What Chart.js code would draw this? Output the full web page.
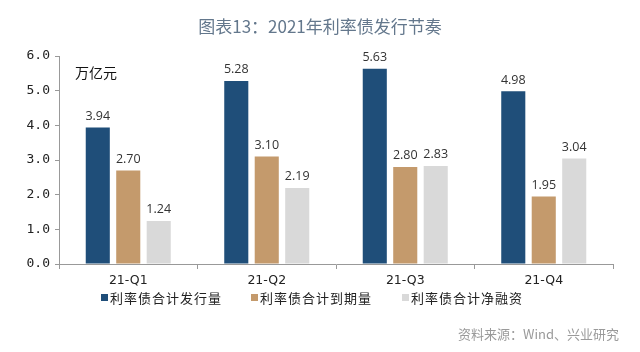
<!DOCTYPE html>
<html><head><meta charset="utf-8">
<script src="https://cdn.jsdelivr.net/npm/chart.js@4"></script>
<style>html,body{margin:0;padding:0;background:#fff}#wrap{width:640px;height:352px}</style>
</head><body><div id="wrap"><canvas id="c" width="640" height="352"></canvas></div>
<script>
const categories = ['21-Q1','21-Q2','21-Q3','21-Q4'];
const issuance = [3.94, 5.28, 5.63, 4.98];
const maturity = [2.70, 3.10, 2.80, 1.95];
const netFinancing = [1.24, 2.19, 2.83, 3.04];
const seriesNames = ['利率债合计发行量','利率债合计到期量','利率债合计净融资'];
const yTicks = [0,1,2,3,4,5,6];
const colors = ['#1F4E79','#C49A6C','#D9D9D9'];
const CJK = '"Noto Sans CJK SC", "Noto Sans", sans-serif';

const extras = {
  id: 'extras',
  afterDatasetsDraw(chart) {
    const ctx = chart.ctx;
    ctx.save();
    ctx.font = '12.5px "Open Sans", "Noto Sans", sans-serif';
    ctx.fillStyle = '#333';
    ctx.textAlign = 'center';
    ctx.textBaseline = 'bottom';
    chart.data.datasets.forEach((ds, i) => {
      const meta = chart.getDatasetMeta(i);
      meta.data.forEach((bar, j) => {
        ctx.fillText(ds.data[j].toFixed(2), bar.x, bar.y - 5);
      });
    });
    ctx.restore();
  },
  afterDraw(chart) {
    const ctx = chart.ctx;
    ctx.save();
    ctx.font = '17px ' + CJK;
    ctx.fillStyle = '#63778C';
    ctx.textAlign = 'center';
    ctx.textBaseline = 'middle';
    ctx.fillText('图表13：2021年利率债发行节奏', 320, 27);
    ctx.font = '14px ' + CJK;
    ctx.fillStyle = '#111';
    ctx.textAlign = 'left';
    ctx.fillText('万亿元', 75, 73);
    const lx = [101, 251, 402];
    ctx.font = '13px ' + CJK;
    ctx.letterSpacing = '1px';
    ctx.textBaseline = 'middle';
    seriesNames.forEach((n, i) => {
      ctx.fillStyle = colors[i];
      ctx.fillRect(lx[i], 294, 7, 7);
      ctx.fillStyle = '#222';
      ctx.fillText(n, lx[i] + 9, 298);
    });
    ctx.letterSpacing = '0px';
    ctx.font = '13px ' + CJK;
    ctx.fillStyle = '#9A9A9A';
    ctx.textAlign = 'right';
    ctx.fillText('资料来源：Wind、兴业研究', 619, 334);
    ctx.restore();
  }
};

new Chart(document.getElementById('c'), {
  type: 'bar',
  data: {
    labels: categories,
    datasets: [
      { label: seriesNames[0], data: issuance, backgroundColor: colors[0] },
      { label: seriesNames[1], data: maturity, backgroundColor: colors[1] },
      { label: seriesNames[2], data: netFinancing, backgroundColor: colors[2] }
    ]
  },
  options: {
    responsive: false,
    animation: false,
    devicePixelRatio: 1,
    layout: { padding: { top: 56, left: 0, right: 27, bottom: 58 } },
    datasets: { bar: { categoryPercentage: 0.66, barPercentage: 0.79 } },
    plugins: { legend: { display: false }, title: { display: false }, tooltip: { enabled: false } },
    scales: {
      x: {
        grid: { display: true, drawOnChartArea: false, drawTicks: true, tickLength: 5, color: '#999', offset: true },
        border: { display: true, color: '#999' },
        ticks: { color: '#222', font: { size: 12.5, family: '"DejaVu Sans", sans-serif' }, padding: 4 },
        afterFit(s) { s.height = 30; }
      },
      y: {
        min: 0, max: 6,
        afterBuildTicks(s) { s.ticks = yTicks.map(v => ({ value: v })); },
        grid: { display: true, drawOnChartArea: false, drawTicks: true, tickLength: 4, color: '#999' },
        border: { display: true, color: '#999' },
        ticks: { color: '#222', font: { size: 13, family: '"DejaVu Sans Mono", monospace' }, padding: 5,
                 callback: v => Number(v).toFixed(1) },
        afterFit(s) { s.width = 59; }
      }
    }
  },
  plugins: [extras]
});
</script></body></html>
